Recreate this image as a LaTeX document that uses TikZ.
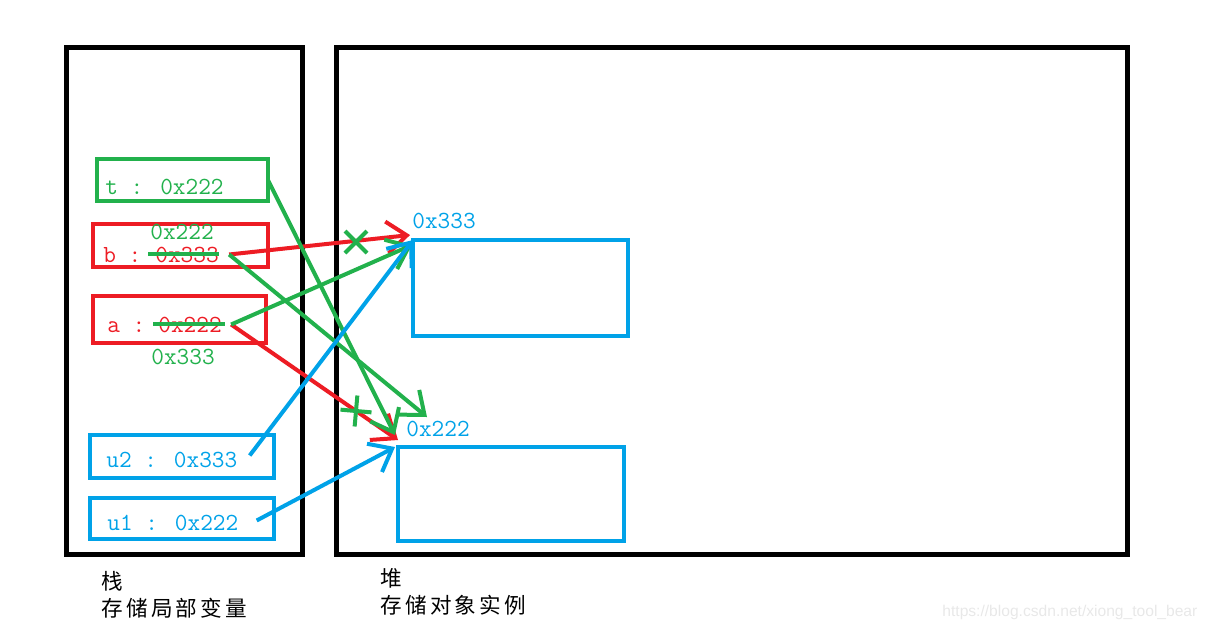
\documentclass[tikz,border=0pt]{standalone}
\usepackage{fontspec}
\setsansfont{Liberation Sans}
\newfontfamily\cjk[LetterSpace=15]{Noto Sans CJK SC}
\usetikzlibrary{arrows.meta}
\usetikzlibrary{shapes.misc}

\definecolor{pgreen}{RGB}{34,177,76}
\definecolor{pred}{RGB}{237,28,36}
\definecolor{pblue}{RGB}{0,162,232}

\tikzset{
    area/.style={draw=black,line width=2.5pt,anchor=north west,inner sep=0pt,outer sep=0pt},
    cell/.style={line width=2pt,anchor=north west,inner sep=0pt,outer sep=0pt},
    txt/.style={anchor=base west,inner sep=0pt,font=\fontsize{12.3}{14}\selectfont\ttfamily},
    ptr/.style={line width=2pt,-{Straight Barb[length=10pt,width=16pt]}},
    strike/.style={draw=pgreen,line width=2pt},
    xmark/.style={cross out,draw=pgreen,line width=2pt,minimum size=9pt,inner sep=0pt}
}

\begin{document}
\begin{tikzpicture}[x=0.5pt,y=-0.5pt]
    \useasboundingbox (0,0) rectangle (1211,628);

    % stack and heap
    \node[area,minimum width=118pt,minimum height=253.5pt] (stack) at (66.5,47.5) {};
    \node[area,minimum width=395.5pt,minimum height=253.5pt] (heap) at (336.5,47.5) {};

    % variables and objects
    \foreach \n/\c/\x/\y/\w/\h in {tbox/pgreen/97/159/85.5/21,
                                   bbox/pred/93/224/87.5/21.5,
                                   abox/pred/93/296/86.5/23.5,
                                   utwo/pblue/90/435/92/21.5,
                                   uone/pblue/90/498/92/20.5,
                                   obj333/pblue/413/240/107.5/48,
                                   obj222/pblue/398/447/113/47}{
        \node[cell,draw=\c,minimum width=\w pt,minimum height=\h pt] (\n) at (\x,\y) {};
    }

    \begin{scope}[every node/.style={txt}]
        \node[pgreen] (tname) at (105,194) {t : 0x222};
        \node[pred] (bname) at (103,262) {b :};
        \node[pred] (bval) at (155,262) {0x333};
        \node[pgreen] (bnew) at (150,239) {0x222};
        \node[pred] (aname) at (107,332) {a :};
        \node[pred] (aval) at (158,332) {0x222};
        \node[pgreen] (anew) at (151,364) {0x333};
        \node[pblue] (utwoname) at (106,467) {u2 : 0x333};
        \node[pblue] (uonename) at (107,530) {u1 : 0x222};
        \node[pblue] (lab333) at (412,228) {0x333};
        \node[pblue] (lab222) at (406,436) {0x222};
    \end{scope}

    % crossed out values
    \draw[strike] ([xshift=-3.5pt]bval.west) -- (bval.east);
    \draw[strike] ([xshift=-2.5pt]aval.west) -- ([xshift=1.5pt]aval.east);

    % references
    \draw[ptr,pred] ([xshift=5pt]bval.east) -- ([xshift=-1.5pt,yshift=2.5pt]obj333.north west);
    \draw[ptr,pred] ([xshift=4.5pt]aval.east) -- ([yshift=3.5pt]obj222.north west);
    \draw[ptr,pgreen] ([xshift=4.5pt]aval.east) -- ([xshift=-0.5pt,yshift=-2.5pt]obj333.north west);
    \draw[ptr,pgreen] ([xshift=5pt]bval.east) -- ([xshift=14.5pt,yshift=15pt]obj222.north west);
    \draw[ptr,pgreen] (tbox.east) -- ([xshift=-1.5pt,yshift=6pt]obj222.north west);
    \draw[ptr,pblue] ([xshift=6pt,yshift=2pt]utwoname.east) -- (obj333.north west);
    \draw[ptr,pblue] ([xshift=9pt,yshift=1pt]uonename.east) -- ([xshift=-1.5pt]obj222.north west);

    \node[xmark] (xone) at (356,242) {};
    \node[xmark,rotate=40] (xtwo) at (356,411) {};

    % captions
    \node[anchor=north west,inner sep=0pt,align=left,font=\fontsize{10.8}{13.5}\selectfont\cjk] (stacklab) at (101,571) {栈\\存储局部变量};
    \node[anchor=north west,inner sep=0pt,align=left,font=\fontsize{10.8}{13.5}\selectfont\cjk] (heaplab) at (380,568) {堆\\存储对象实例};
    \node[anchor=base west,inner sep=0pt,text=black!9,font=\sffamily\fontsize{7.8}{9}\selectfont] (mark) at (942,616) {https://blog.csdn.net/xiong\_tool\_bear};
\end{tikzpicture}
\end{document}
